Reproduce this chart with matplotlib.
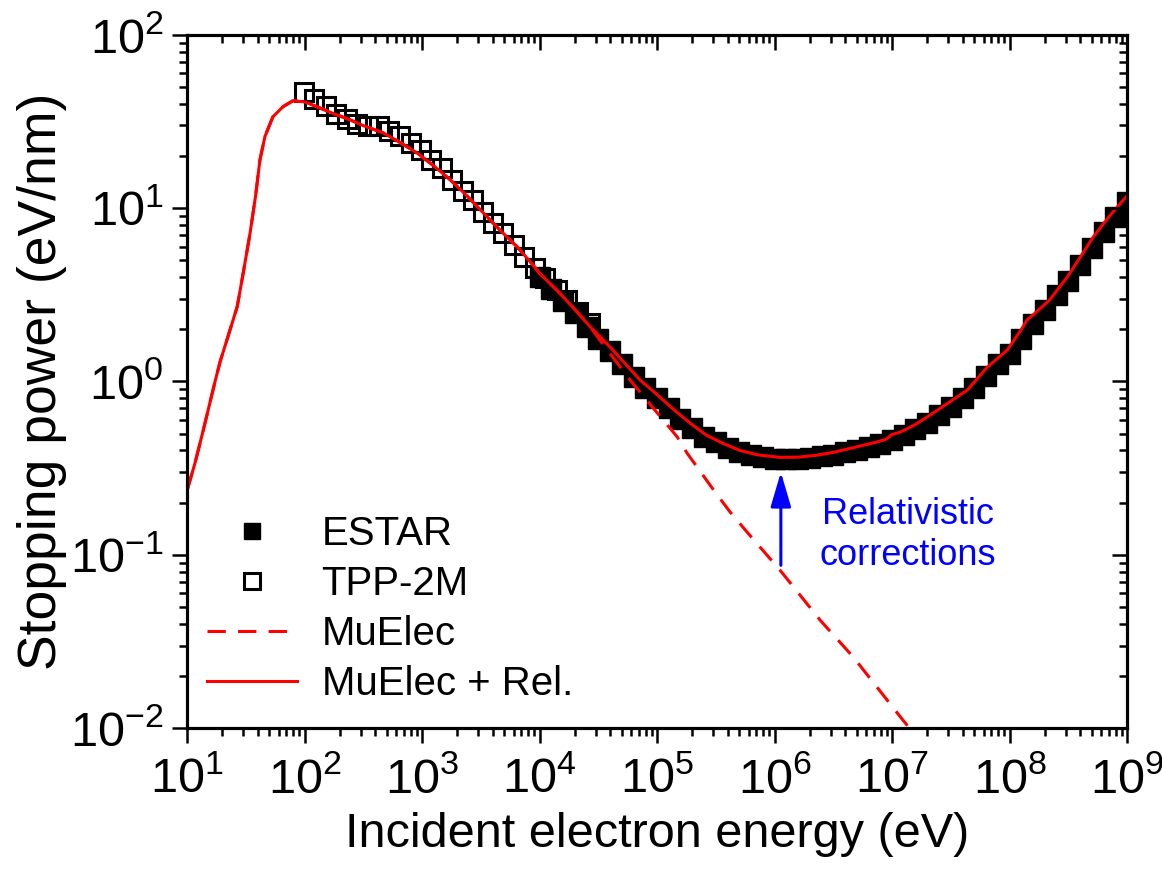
import numpy as np
import matplotlib
matplotlib.use('Agg')
import matplotlib.pyplot as plt
from matplotlib.ticker import LogLocator, NullFormatter

plt.rcParams['font.family'] = ['Liberation Sans', 'DejaVu Sans']
plt.rcParams['mathtext.fontset'] = 'custom'
plt.rcParams['mathtext.rm'] = 'Liberation Sans'
plt.rcParams['mathtext.it'] = 'Liberation Sans:italic'
plt.rcParams['axes.unicode_minus'] = False

# ESTAR (filled squares), energy in eV, stopping power in eV/nm
estar_E = [1.0e4, 1.26e4, 1.58e4, 2.0e4, 2.51e4, 3.16e4, 3.98e4, 5.01e4, 6.31e4, 7.94e4,
           1.0e5, 1.26e5, 1.58e5, 2.0e5, 2.51e5, 3.16e5, 3.98e5, 5.01e5, 6.31e5, 7.94e5,
           1.0e6, 1.26e6, 1.58e6, 2.0e6, 2.51e6, 3.16e6, 3.98e6, 5.01e6, 6.31e6, 7.94e6,
           1.0e7, 1.26e7, 1.58e7, 2.0e7, 2.51e7, 3.16e7, 3.98e7, 5.01e7, 6.31e7, 7.94e7,
           1.0e8, 1.26e8, 1.58e8, 2.0e8, 2.51e8, 3.16e8, 3.98e8, 5.01e8, 6.31e8, 7.94e8,
           1.0e9]
estar_S = [4.0, 3.4, 2.9, 2.48, 2.07, 1.75, 1.50, 1.26, 1.06, 0.92,
           0.80, 0.70, 0.61, 0.54, 0.48, 0.445, 0.415, 0.39, 0.375, 0.365,
           0.357, 0.355, 0.357, 0.362, 0.37, 0.378, 0.39, 0.405, 0.42, 0.435,
           0.46, 0.49, 0.53, 0.58, 0.64, 0.71, 0.80, 0.92, 1.08, 1.26,
           1.45, 1.75, 2.15, 2.6, 3.15, 3.8, 4.7, 5.9, 7.3, 8.9,
           10.8]

# TPP-2M (open squares)
tpp_E = [99.6, 120, 152, 184, 229, 278, 345, 434, 525, 650, 805, 977, 1190, 1470,
         1780, 2220, 2690, 3320, 4050, 4920, 6000, 7430, 9140, 11200, 14000, 17000,
         21400, 26900]
tpp_S = [46.7, 42.6, 38.6, 34.8, 32.6, 30.5, 29.8, 29.6, 27.9, 25.9, 23.7, 21.7, 19.0, 17.0,
         14.5, 12.6, 11.2, 9.55, 8.18, 7.16, 6.13, 5.25, 4.5, 3.94, 3.37, 2.95,
         2.53, 2.17]

# MuElec + Rel. (solid red)
rel_E = [10, 11.7, 13.7, 17.3, 19.1, 21.9, 26.7, 30.0, 34.4, 38.3, 41.7, 46, 53.7, 65.6,
         79.5, 100, 128, 178, 244,
         320, 466, 631, 906, 1260, 1730, 2400, 3310, 4570, 6460, 8900,
         1.0e4, 1.41e4, 1.95e4, 2.69e4, 3.98e4, 5.62e4, 7.16e4,
         1.0e5, 1.38e5, 1.91e5, 2.63e5, 3.63e5, 5.08e5, 7.08e5,
         1.11e6, 1.58e6, 2.24e6, 3.16e6, 5.01e6, 7.45e6, 8.9e6,
         1.0e7, 1.17e7, 1.58e7, 2.24e7, 3.16e7, 4.37e7, 6.46e7, 9.55e7,
         1.26e8, 1.41e8, 1.58e8, 2.19e8, 3.09e8, 3.98e8, 5.13e8, 7.08e8, 1.0e9]
rel_S = [0.235, 0.34, 0.52, 1.0, 1.3, 1.75, 2.7, 4.2, 7.2, 11.8, 19, 25.9, 33.6, 38.5,
         41.6, 41, 38.4, 35, 32.3,
         29.8, 27.2, 24.2, 20.8, 17.5, 14.6, 11.8, 9.4, 7.5, 5.97, 4.65,
         4.2, 3.35, 2.65, 2.07, 1.58, 1.22, 1.02,
         0.84, 0.69, 0.575, 0.49, 0.44, 0.40, 0.378,
         0.365, 0.366, 0.375, 0.39, 0.42, 0.448, 0.465,
         0.495, 0.51, 0.565, 0.658, 0.77, 0.893, 1.21, 1.52,
         2.0, 2.27, 2.42, 2.95, 4.0, 5.2, 6.8, 9.0, 11.8]

# MuElec without relativistic corrections (dashed red)
mu_E = [10, 11.7, 13.7, 17.3, 19.1, 21.9, 26.7, 30.0, 34.4, 38.3, 41.7, 46, 53.7, 65.6,
        79.5, 100, 128, 178, 244,
        320, 466, 631, 906, 1260, 1730, 2400, 3310, 4570, 6460, 8900,
        1.0e4, 1.41e4, 1.95e4, 2.69e4, 3.5e4, 4.57e4, 5.89e4,
        1.0e5, 1.48e5, 1.8e5, 3.02e5, 4.17e5, 6.31e5,
        1.11e6, 2.44e6, 4.68e6, 1.24e7, 2.0e7]
mu_S = [0.235, 0.34, 0.52, 1.0, 1.3, 1.75, 2.7, 4.2, 7.2, 11.8, 19, 25.9, 33.6, 38.5,
        41.6, 41, 38.4, 35, 32.3,
        29.8, 27.2, 24.2, 20.8, 17.5, 14.6, 11.8, 9.4, 7.5, 5.97, 4.65,
        4.2, 3.35, 2.65, 2.07, 1.62, 1.28, 1.02,
        0.66, 0.48, 0.386, 0.237, 0.177, 0.127,
        0.0817, 0.042, 0.0257, 0.0111, 0.0075]

fig = plt.figure(figsize=(11.62, 8.69), dpi=100)
ax = fig.add_axes([0.161, 0.162, 0.809, 0.798])

ax.plot(estar_E, estar_S, 's', color='black', markersize=14, label='ESTAR', zorder=2)
ax.plot(tpp_E, tpp_S, 's', mfc='none', mec='black', mew=2.2, markersize=13.5,
        label='TPP-2M', zorder=2)
ax.plot(mu_E, mu_S, '--', color='red', lw=2.2, dashes=(6, 4), label='MuElec', zorder=3)
ax.plot(rel_E, rel_S, '-', color='red', lw=2.2, label='MuElec + Rel.', zorder=4)

ax.annotate('', xy=(1.13e6, 0.30), xytext=(1.13e6, 0.087),
            arrowprops=dict(arrowstyle='-|>,head_width=0.25,head_length=0.85',
                            color='blue', lw=2.2, mutation_scale=25, shrinkA=0, shrinkB=0))
ax.text(1.37e7, 0.13, 'Relativistic\ncorrections', color='blue', fontsize=26,
        ha='center', va='center', linespacing=1.2)

ax.set_xscale('log')
ax.set_yscale('log')
ax.set_xlim(10, 1e9)
ax.set_ylim(1e-2, 1e2)

for a in [ax.xaxis, ax.yaxis]:
    a.set_major_locator(LogLocator(base=10, numticks=20))
    a.set_minor_locator(LogLocator(base=10, subs=np.arange(2, 10), numticks=100))
    a.set_minor_formatter(NullFormatter())

ax.tick_params(which='major', direction='out', length=11, width=1.8, labelsize=35)
ax.tick_params(axis='x', which='major', pad=10)
ax.tick_params(axis='y', which='major', pad=6)
ax.tick_params(which='minor', direction='out', length=6, width=1.8)
for s in ax.spines.values():
    s.set_linewidth(2.2)

# inward ticks on top and right
axt = ax.twiny()
axt.set_xscale('log')
axt.set_xlim(ax.get_xlim())
axt.xaxis.set_major_locator(LogLocator(base=10, numticks=20))
axt.xaxis.set_minor_locator(LogLocator(base=10, subs=np.arange(2, 10), numticks=100))
axt.tick_params(which='major', direction='in', length=11, width=1.8, labeltop=False)
axt.tick_params(which='minor', direction='in', length=6, width=1.8)
axr = ax.twinx()
axr.set_yscale('log')
axr.set_ylim(ax.get_ylim())
axr.yaxis.set_major_locator(LogLocator(base=10, numticks=20))
axr.yaxis.set_minor_locator(LogLocator(base=10, subs=np.arange(2, 10), numticks=100))
axr.tick_params(which='major', direction='in', length=11, width=1.8, labelright=False)
axr.tick_params(which='minor', direction='in', length=6, width=1.8)
for a in [axt, axr]:
    for s in a.spines.values():
        s.set_linewidth(2.2)

ax.set_xlabel('Incident electron energy (eV)', fontsize=35, labelpad=6)
ax.set_ylabel('Stopping power (eV/nm)', fontsize=38.5, labelpad=2)

ax.legend(loc='upper left', bbox_to_anchor=(0.021, 0.308), frameon=False, fontsize=29,
          handlelength=2.25, handletextpad=0.6, labelspacing=0.3, borderpad=0,
          borderaxespad=0, markerscale=0.85)

fig.savefig('out.png', dpi=100)
